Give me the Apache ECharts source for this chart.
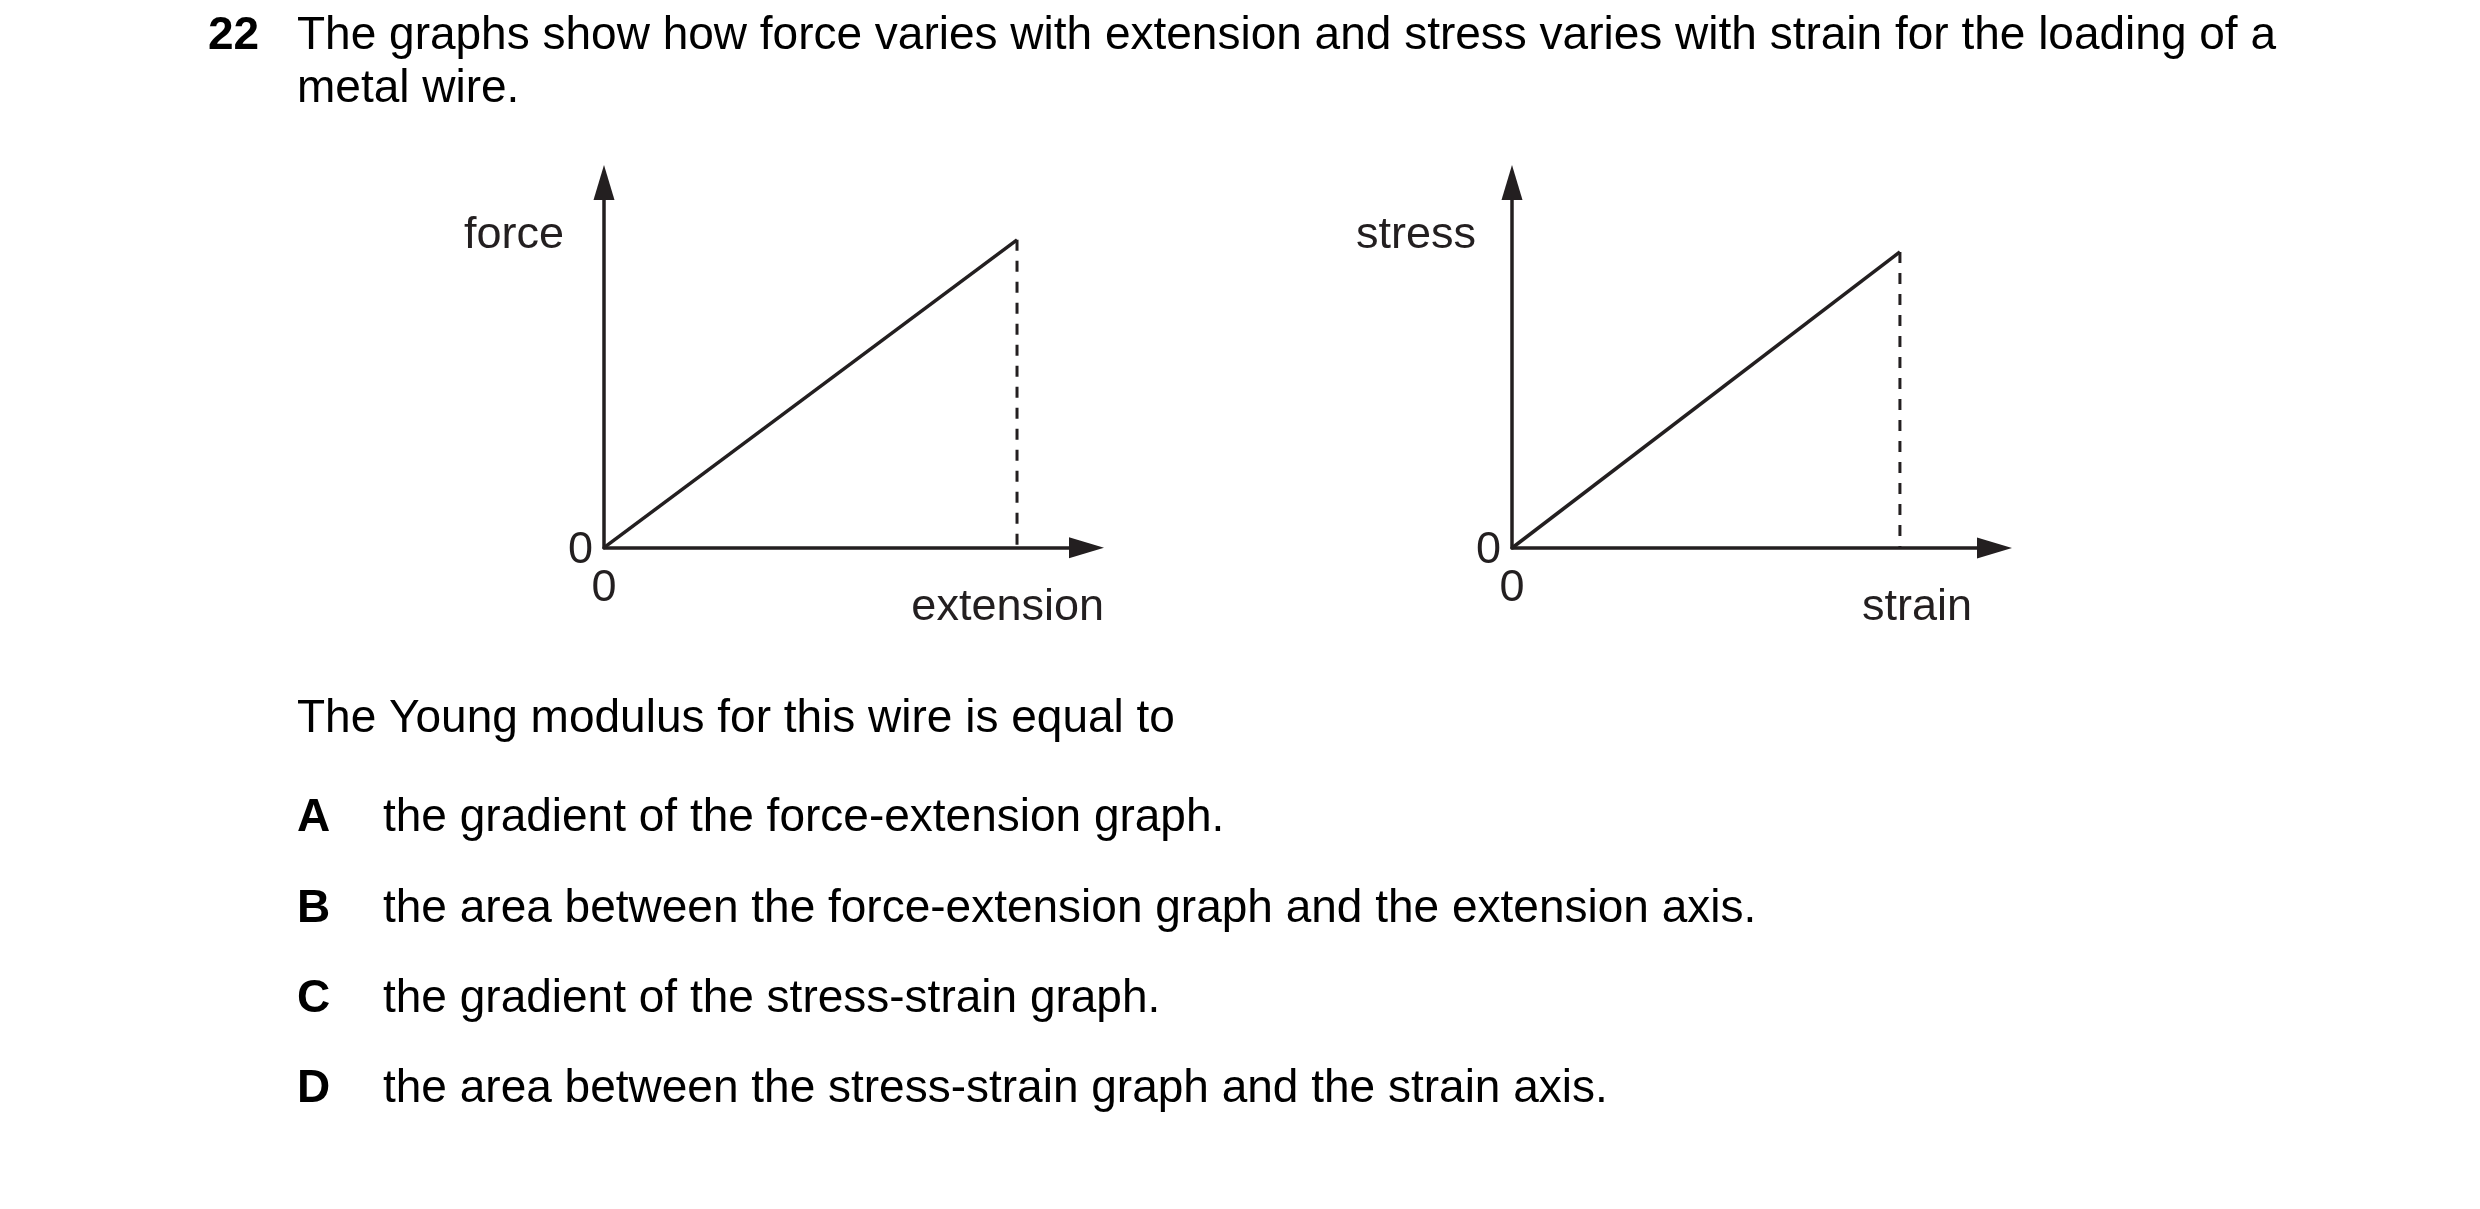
<!DOCTYPE html>
<html>
<head>
<meta charset="utf-8">
<script src="https://cdn.jsdelivr.net/npm/echarts@6/dist/echarts.min.js"></script>
<style>
  html, body { margin: 0; padding: 0; background: #ffffff; }
  #chart { width: 2480px; height: 1209px; }
</style>
</head>
<body>
<div id="chart"></div>
<script>
// ---- data ----
const forceExtension = [[0, 0], [0.856, 0.843]];   // straight line from origin
const stressStrain = [[0, 0], [0.804, 0.810]];
const xAxisNames = ['extension', 'strain'];
const yAxisNames = ['force', 'stress'];
const tickValues = [0, 1];

const questionNumber = '22';
const questionLines = [
  'The graphs show how force varies with extension and stress varies with strain for the loading of a',
  'metal wire.'
];
const stemText = 'The Young modulus for this wire is equal to';
const optionKeys = ['A', 'B', 'C', 'D'];
const optionTexts = [
  'the gradient of the force-extension graph.',
  'the area between the force-extension graph and the extension axis.',
  'the gradient of the stress-strain graph.',
  'the area between the stress-strain graph and the strain axis.'
];

// ---- styling ----
const FONT = '"Liberation Sans", Arial, Helvetica, sans-serif';
const INK = '#231f20';
const LABEL_SIZE = 45;
const TEXT_SIZE = 46;

const chart = echarts.init(document.getElementById('chart'), null, { renderer: 'canvas' });

const grids = [
  { left: 604, top: 182.5, width: 482.5, height: 365.2, outerBoundsMode: 'none' },
  { left: 1512, top: 182.5, width: 482.5, height: 365.5, outerBoundsMode: 'none' }
];

const xNameGaps = [17.5, -22.5];
const yNamePads = [40, 36];

function makeXAxis(i) {
  return {
    type: 'value', gridIndex: i,
    min: tickValues[0], max: tickValues[1], interval: tickValues[1] - tickValues[0],
    name: xAxisNames[i], nameLocation: 'end', nameGap: xNameGaps[i],
    nameTextStyle: { fontFamily: FONT, fontSize: LABEL_SIZE, color: INK, align: 'right', verticalAlign: 'top', padding: [37, 0, 0, 0] },
    axisLine: { show: true, onZero: false, symbol: ['none', 'triangle'], symbolSize: [21, 35], lineStyle: { color: INK, width: 3.5 } },
    axisTick: { show: false },
    splitLine: { show: false },
    axisLabel: { show: true, showMaxLabel: false, margin: 18, fontFamily: FONT, fontSize: LABEL_SIZE, color: INK,
      formatter: function (v) { return v === 0 ? '0' : ''; } }
  };
}
function makeYAxis(i) {
  return {
    type: 'value', gridIndex: i,
    min: tickValues[0], max: tickValues[1], interval: tickValues[1] - tickValues[0],
    name: yAxisNames[i], nameLocation: 'end', nameGap: -76,
    nameTextStyle: { fontFamily: FONT, fontSize: LABEL_SIZE, color: INK, align: 'right', verticalAlign: 'bottom', padding: [0, yNamePads[i], 0, 0] },
    axisLine: { show: true, onZero: false, symbol: ['none', 'triangle'], symbolSize: [21, 35], lineStyle: { color: INK, width: 3.5 } },
    axisTick: { show: false },
    splitLine: { show: false },
    axisLabel: { show: true, showMaxLabel: false, margin: 11, verticalAlign: 'top', lineHeight: 5, fontFamily: FONT, fontSize: LABEL_SIZE, color: INK,
      formatter: function (v) { return v === 0 ? '0' : ''; } }
  };
}

function solidSeries(i, data) {
  return { type: 'line', xAxisIndex: i, yAxisIndex: i, data: data, symbol: 'none', clip: false, silent: true,
    lineStyle: { color: INK, width: 3.5 } };
}
function dashedSeries(i, data) {
  const end = data[data.length - 1];
  return { type: 'line', xAxisIndex: i, yAxisIndex: i, data: [[end[0], end[1]], [end[0], 0]], symbol: 'none', clip: false, silent: true,
    lineStyle: { color: INK, width: 3, type: [11, 10] } };
}

function textEl(x, y, text, bold) {
  return { type: 'text', x: x, y: y, silent: true,
    style: { text: text, fill: '#000000', font: (bold ? 'bold ' : '') + TEXT_SIZE + 'px ' + FONT, align: 'left', verticalAlign: 'middle' } };
}

const graphics = [];
graphics.push(textEl(208, 36, questionNumber, true));
graphics.push(textEl(297, 36, questionLines[0], false));
graphics.push(textEl(297, 89, questionLines[1], false));
graphics.push(textEl(297, 719, stemText, false));
const optionY = [818, 909, 999, 1089];
optionKeys.forEach(function (k, i) {
  graphics.push(textEl(297, optionY[i], k, true));
  graphics.push(textEl(383, optionY[i], optionTexts[i], false));
});

chart.setOption({
  backgroundColor: '#ffffff',
  animation: false,
  grid: grids,
  xAxis: [makeXAxis(0), makeXAxis(1)],
  yAxis: [makeYAxis(0), makeYAxis(1)],
  series: [
    solidSeries(0, forceExtension), dashedSeries(0, forceExtension),
    solidSeries(1, stressStrain), dashedSeries(1, stressStrain)
  ],
  graphic: graphics
});
</script>
</body>
</html>
